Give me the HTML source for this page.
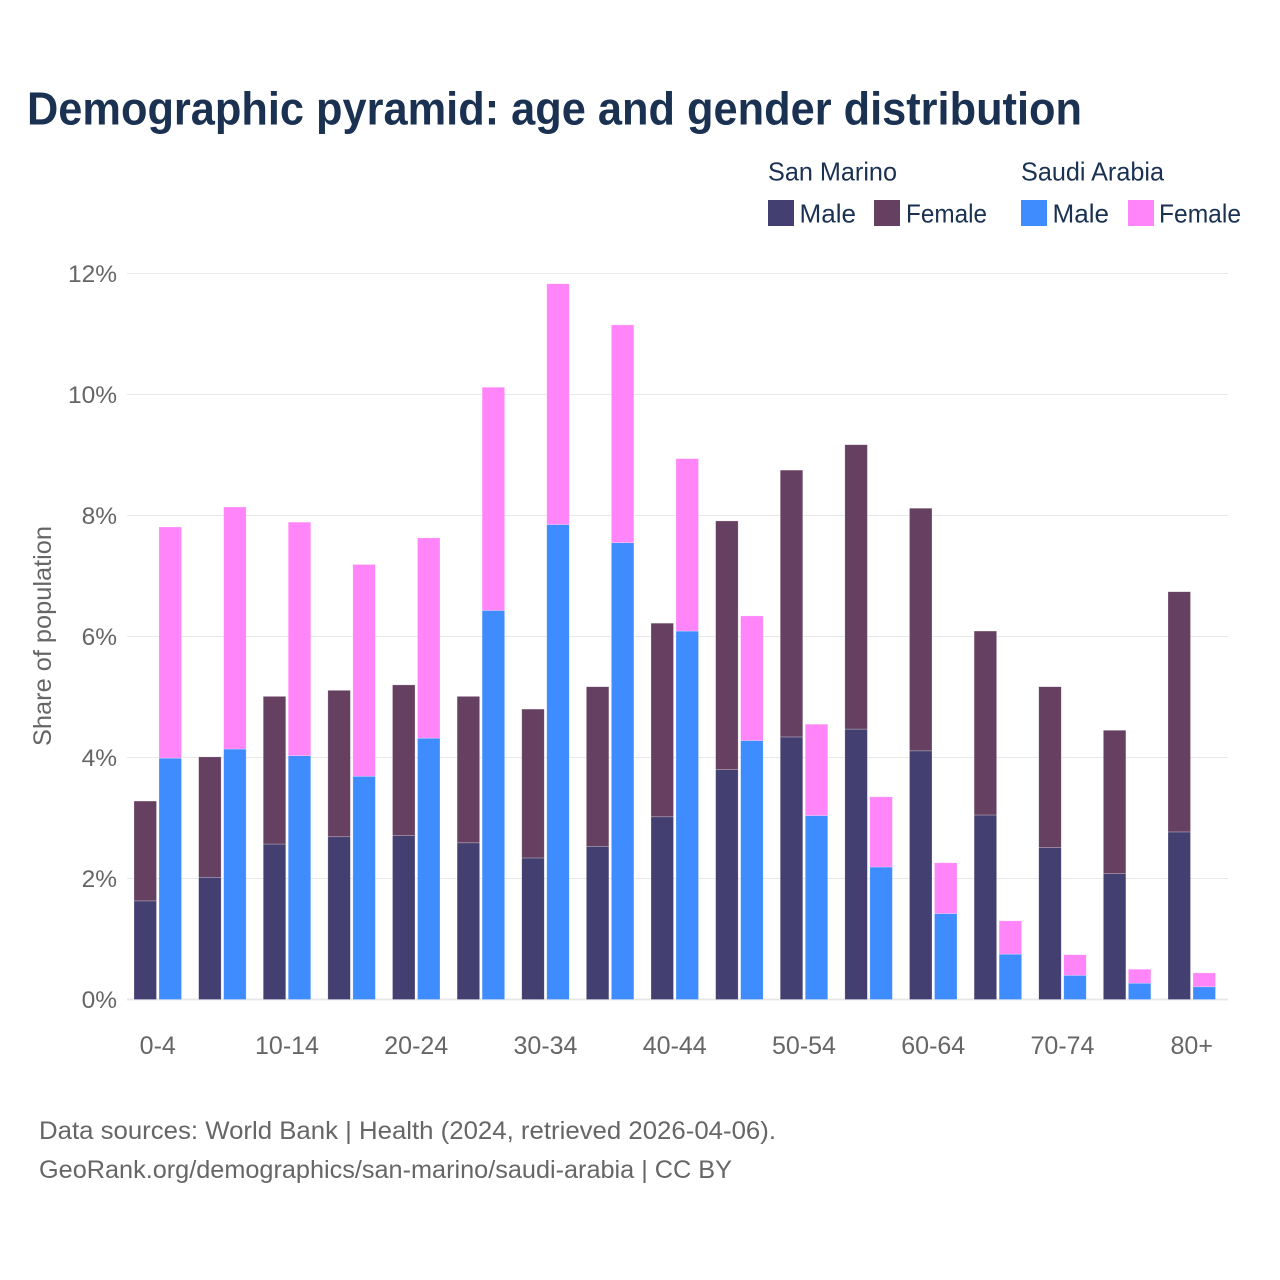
<!DOCTYPE html>
<html lang="en">
<head>
<meta charset="utf-8">
<title>Demographic pyramid: age and gender distribution</title>
<style>
html,body{margin:0;padding:0;background:#fff;}
svg{display:block;font-family:"Liberation Sans",sans-serif;}
</style>
</head>
<body>
<svg id="chart" width="1280" height="1280" viewBox="0 0 1280 1280" xmlns="http://www.w3.org/2000/svg">
  <rect width="1280" height="1280" fill="#ffffff"/>
  <text x="27" y="124.5" font-size="46" font-weight="700" fill="#1a3152" textLength="1055" lengthAdjust="spacingAndGlyphs">Demographic pyramid: age and gender distribution</text>

  <g font-size="26" fill="#1a3152">
    <text x="768" y="180.5" textLength="129" lengthAdjust="spacingAndGlyphs">San Marino</text>
    <text x="1021" y="180.5" textLength="143" lengthAdjust="spacingAndGlyphs">Saudi Arabia</text>
    <rect x="768" y="200" width="26" height="26" fill="#433f70"/>
    <text x="799.5" y="222.5" textLength="56.5" lengthAdjust="spacingAndGlyphs">Male</text>
    <rect x="874" y="200" width="26" height="26" fill="#664060"/>
    <text x="906" y="222.5" textLength="81" lengthAdjust="spacingAndGlyphs">Female</text>
    <rect x="1021" y="200" width="26" height="26" fill="#3f8cff"/>
    <text x="1052.5" y="222.5" textLength="56.5" lengthAdjust="spacingAndGlyphs">Male</text>
    <rect x="1128" y="200" width="26" height="26" fill="#ff85f8"/>
    <text x="1159" y="222.5" textLength="82" lengthAdjust="spacingAndGlyphs">Female</text>
  </g>

  <g id="grid"></g>
  <g id="yticks"></g>
  <g id="xticks"></g>
  <g id="bars"></g>

  <text transform="translate(51,636) rotate(-90)" text-anchor="middle" font-size="25" fill="#666666" textLength="220" lengthAdjust="spacingAndGlyphs">Share of population</text>

  <text x="39" y="1139" font-size="25" fill="#666666" textLength="737" lengthAdjust="spacingAndGlyphs">Data sources: World Bank | Health (2024, retrieved 2026-04-06).</text>
  <text x="39" y="1178" font-size="25" fill="#666666" textLength="693" lengthAdjust="spacingAndGlyphs">GeoRank.org/demographics/san-marino/saudi-arabia | CC BY</text>
</svg>
<script>
const categories = ["0-4","5-9","10-14","15-19","20-24","25-29","30-34","35-39","40-44","45-49","50-54","55-59","60-64","65-69","70-74","75-79","80+"];
const xTickLabels = ["0-4","10-14","20-24","30-34","40-44","50-54","60-64","70-74","80+"];
const yTickValues = [0,2,4,6,8,10,12];
const sanMarinoMale = [1.63,2.02,2.57,2.69,2.71,2.59,2.34,2.53,3.02,3.80,4.34,4.47,4.11,3.05,2.51,2.08,2.77];
const sanMarinoFemale = [1.65,1.99,2.44,2.42,2.49,2.42,2.46,2.64,3.20,4.11,4.41,4.70,4.01,3.04,2.66,2.37,3.97];
const saudiArabiaMale = [3.99,4.14,4.03,3.69,4.32,6.43,7.85,7.55,6.09,4.28,3.04,2.19,1.42,0.75,0.40,0.27,0.21];
const saudiArabiaFemale = [3.82,4.00,3.86,3.50,3.31,3.69,3.98,3.60,2.85,2.06,1.51,1.16,0.84,0.55,0.34,0.23,0.23];

const NS = "http://www.w3.org/2000/svg";
const plotLeft = 127, plotRight = 1228, firstGroupX = 134, groupStep = 64.625, barWidth = 22.5, barGap = 2.5;
const yZero = 999.5, pxPerUnit = 60.5;
function yScale(v) { return yZero - v * pxPerUnit; }
function xScale(i) { return firstGroupX + i * groupStep; }
function xCenter(i) { return xScale(i) + barWidth + barGap / 2; }
function make(tag, attrs) {
  const el = document.createElementNS(NS, tag);
  for (const k in attrs) el.setAttribute(k, attrs[k]);
  return el;
}

const grid = document.getElementById("grid");
const yticks = document.getElementById("yticks");
const xticks = document.getElementById("xticks");
const bars = document.getElementById("bars");

yTickValues.forEach(function (v) {
  const line = make("line", {x1: plotLeft, x2: plotRight, y1: yScale(v), y2: yScale(v), stroke: "#e8e8e8", "stroke-width": v === 0 ? 2 : 1});
  
  
  grid.appendChild(line);
  const label = make("text", {x: 117, y: yScale(v) + 8.5, "text-anchor": "end", "font-size": 24.5, fill: "#666666"});
  
  
  label.textContent = v + "%";
  yticks.appendChild(label);
});

xTickLabels.forEach(function (t) {
  const label = make("text", {x: xCenter(categories.indexOf(t)), y: 1054, "text-anchor": "middle", "font-size": 25, fill: "#666666"});
  
  
  label.textContent = t;
  xticks.appendChild(label);
});

function addBar(x, start, value, color) {
  const top = yScale(start + value), bottom = yScale(start);
  const r = make("rect", {x: x, y: top, width: barWidth, height: bottom - top, fill: color, stroke: "#ffffff", "stroke-opacity": 0.4, "stroke-width": 0.6});
  
  
  bars.appendChild(r);
}

categories.forEach(function (c, i) {
  const x1 = xScale(i), x2 = x1 + barWidth + barGap;
  addBar(x1, 0, sanMarinoMale[i], "#433f70");
  addBar(x1, sanMarinoMale[i], sanMarinoFemale[i], "#664060");
  addBar(x2, 0, saudiArabiaMale[i], "#3f8cff");
  addBar(x2, saudiArabiaMale[i], saudiArabiaFemale[i], "#ff85f8");
});
</script>
</body>
</html>
